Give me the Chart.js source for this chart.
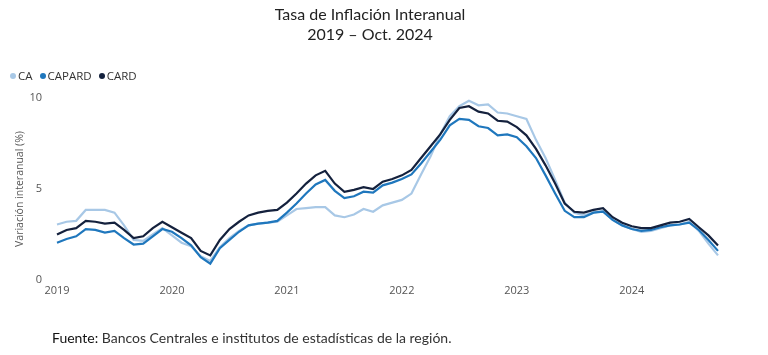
<!DOCTYPE html>
<html>
<head>
<meta charset="utf-8">
<script src="https://cdn.jsdelivr.net/npm/chart.js@4/dist/chart.umd.min.js"></script>
<style>
  html,body{margin:0;padding:0;background:#fff;}
  #wrap{position:relative;width:768px;height:355px;overflow:hidden;}
  #c{position:absolute;left:0;top:0;}
  .title{position:absolute;left:0;width:740px;text-align:center;font-family:Lato,"Noto Sans",sans-serif;font-size:16px;color:#222;line-height:20px;}
  #legend{position:absolute;left:10px;top:68px;font-family:"Open Sans",sans-serif;font-size:11.5px;color:#333;white-space:nowrap;}
  #legend span.item{margin-right:7px;}
  #legend span.dot{display:inline-block;width:6px;height:6px;border-radius:50%;margin-right:2px;vertical-align:1px;}
  #foot{position:absolute;left:52px;top:329px;font-family:Lato,"Noto Sans",sans-serif;font-size:14px;color:#333;}
</style>
</head>
<body>
<div id="wrap">
  <canvas id="c" width="768" height="355"></canvas>
  <div class="title" style="top:4px;">Tasa de Inflación Interanual</div>
  <div class="title" style="top:24px;">2019 – Oct. 2024</div>
  <div id="legend"></div>
  <div id="foot"><span style="color:#111;">Fuente:</span> Bancos Centrales e institutos de estadísticas de la región.</div>
</div>
<script>
// Categories: monthly, Jan 2019 – Oct 2024
const years = [2019, 2020, 2021, 2022, 2023, 2024];
const months = [];
years.forEach(y => { for (let m = 1; m <= 12; m++) { if (y === 2024 && m > 10) break; months.push(y + '-' + String(m).padStart(2, '0')); } });

const seriesNames = ['CA', 'CAPARD', 'CARD'];

const CA = [
  3.05,3.2,3.25,3.85,3.85,3.85,3.7,3.0,2.2,2.15,2.5,2.85,
  2.45,2.05,1.85,1.3,1.05,1.8,2.3,2.7,3.0,3.1,3.15,3.2,
  3.55,3.9,3.95,4.0,4.0,3.55,3.45,3.6,3.9,3.75,4.1,4.25,
  4.4,4.75,5.8,6.8,8.0,9.0,9.55,9.85,9.6,9.65,9.2,9.15,
  9.0,8.85,7.7,6.7,5.5,4.25,3.7,3.55,3.7,3.8,3.3,3.0,
  2.8,2.65,2.7,2.85,3.0,3.05,3.2,2.7,2.0,1.35
];
const CAPARD = [
  2.05,2.25,2.4,2.8,2.75,2.6,2.7,2.3,1.95,2.0,2.4,2.8,
  2.65,2.3,1.9,1.25,0.9,1.75,2.2,2.65,3.0,3.1,3.15,3.25,
  3.7,4.2,4.75,5.25,5.5,4.9,4.5,4.6,4.85,4.8,5.2,5.35,
  5.55,5.8,6.4,7.05,7.7,8.5,8.85,8.8,8.45,8.35,7.95,8.0,
  7.85,7.35,6.7,5.75,4.75,3.8,3.45,3.45,3.7,3.75,3.3,3.0,
  2.8,2.7,2.75,2.9,3.0,3.05,3.15,2.75,2.2,1.6
];
const CARD = [
  2.5,2.75,2.85,3.25,3.2,3.1,3.15,2.75,2.3,2.4,2.85,3.2,
  2.9,2.6,2.3,1.6,1.35,2.2,2.8,3.2,3.55,3.7,3.8,3.85,
  4.25,4.75,5.3,5.75,6.0,5.3,4.85,4.95,5.1,5.0,5.4,5.55,
  5.75,6.05,6.7,7.35,8.0,8.8,9.45,9.55,9.25,9.15,8.75,8.7,
  8.4,7.95,7.2,6.3,5.3,4.2,3.75,3.7,3.85,3.95,3.45,3.15,
  2.95,2.85,2.85,3.0,3.15,3.2,3.35,2.9,2.45,1.9
];
const yTicks = [0, 5, 10];

const colors = { CA: '#a8c8e6', CAPARD: '#1f77bd', CARD: '#14213d' };
const dataMap = { CA, CAPARD, CARD };

// HTML legend
const lg = document.getElementById('legend');
seriesNames.forEach(n => {
  const s = document.createElement('span'); s.className = 'item';
  s.innerHTML = '<span class="dot" style="background:' + colors[n] + '"></span>' + n;
  lg.appendChild(s);
});

const tickFont = { family: '"Open Sans", sans-serif', size: 11 };

new Chart(document.getElementById('c'), {
  type: 'line',
  data: {
    labels: months,
    datasets: ['CARD', 'CAPARD', 'CA'].map(n => ({
      label: n, data: dataMap[n], borderColor: colors[n], backgroundColor: colors[n],
      borderWidth: 2.2, pointRadius: 0, tension: 0, fill: false
    }))
  },
  options: {
    responsive: false, animation: false, devicePixelRatio: 1,
    layout: { padding: { left: 0, right: 50, top: 98, bottom: 0 } },
    plugins: { legend: { display: false }, title: { display: false }, tooltip: { enabled: false } },
    scales: {
      x: {
        type: 'category', offset: false,
        grid: { display: false, drawTicks: false },
        border: { display: false },
        ticks: {
          autoSkip: false, maxRotation: 0, padding: 4, color: '#555', font: tickFont,
          callback: function(v, i) { const l = months[i]; return l.endsWith('-01') ? l.slice(0, 4) : ''; }
        },
        afterFit: s => { s.height = 75; }
      },
      y: {
        min: 0, max: 10,
        afterBuildTicks: s => { s.ticks = yTicks.map(v => ({ value: v })); },
        grid: { display: false, drawTicks: false },
        border: { display: false },
        ticks: { padding: 15, color: '#555', font: tickFont },
        title: { display: true, text: 'Variación interanual (%)', color: '#555', font: { family: '"Open Sans", sans-serif', size: 10.5 }, padding: { top: 14, bottom: 0 } },
        afterFit: s => { s.width = 57; }
      }
    }
  }
});
</script>
</body>
</html>
